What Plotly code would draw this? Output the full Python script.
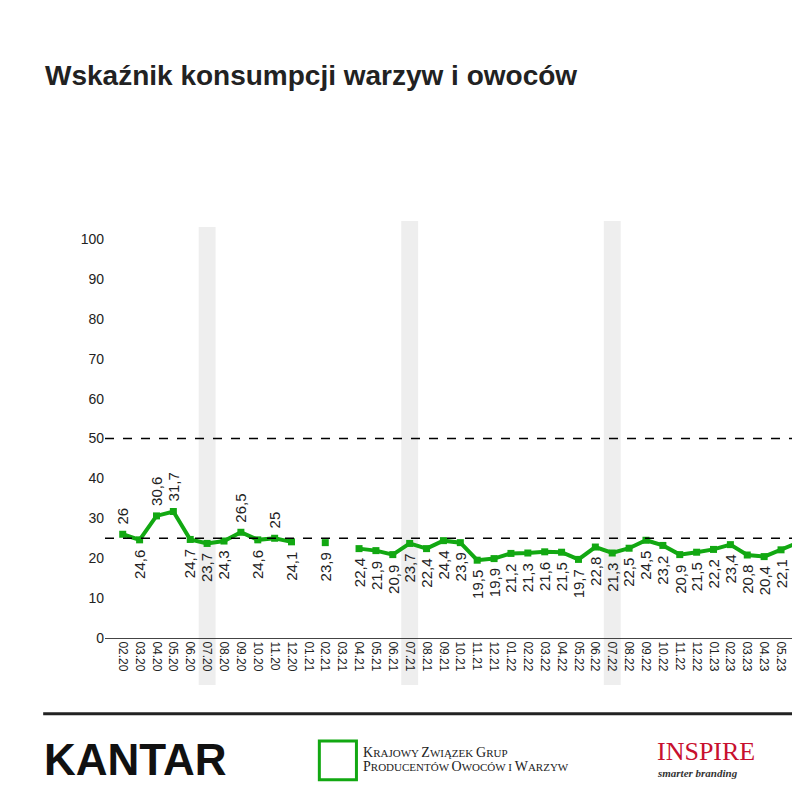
import plotly.graph_objects as go

months = ["02.20","03.20","04.20","05.20","06.20","07.20","08.20","09.20","10.20","11.20","12.20",
          "01.21","02.21","03.21","04.21","05.21","06.21","07.21","08.21","09.21","10.21","11.21","12.21",
          "01.22","02.22","03.22","04.22","05.22","06.22","07.22","08.22","09.22","10.22","11.22","12.22",
          "01.23","02.23","03.23","04.23","05.23","06.23"]
values = [26,24.6,30.6,31.7,24.7,23.7,24.3,26.5,24.6,25,24.1,
          None,23.9,None,22.4,21.9,20.9,23.7,22.4,24.4,23.9,19.5,19.9,
          21.2,21.3,21.6,21.5,19.7,22.8,21.3,22.5,24.5,23.2,20.9,21.5,
          22.2,23.4,20.8,20.4,22.1,23.9]
above = {"02.20","04.20","05.20","09.20","11.20"}
shaded = ["07.20","07.21","07.22"]
green = "#12a812"

idx = list(range(len(months)))
fig = go.Figure()
fig.add_trace(go.Scatter(x=idx, y=values, mode="lines+markers", connectgaps=False,
                         line=dict(color=green, width=4), marker=dict(symbol="square", size=7, color=green),
                         cliponaxis=True, showlegend=False))
for i, (m, v) in enumerate(zip(months, values)):
    if v is None or i >= 40:
        continue
    lab = str(v).replace(".", ",")
    up = m in above
    fig.add_annotation(x=i, y=v, text=lab, textangle=-90, showarrow=False,
                       yanchor="bottom" if up else "top", yshift=8 if up else -8,
                       font=dict(size=15, color="#222", family="Arial"))
for s in shaded:
    i = months.index(s)
    top = 1.030 if s == "07.20" else 1.045
    fig.add_shape(type="rect", xref="x", yref="paper", x0=i-0.5, x1=i+0.5, y0=-0.118, y1=top,
                  fillcolor="#eeeeee", line_width=0, layer="below")
for yv in [50, 25]:
    fig.add_shape(type="line", xref="paper", yref="y", x0=0, x1=1, y0=yv, y1=yv,
                  line=dict(color="black", width=1.3, dash="dash"))
fig.add_shape(type="line", xref="paper", yref="paper", x0=-0.09, x1=1.0, y0=-0.19, y1=-0.19,
              line=dict(color="#222", width=3))
fig.add_annotation(xref="paper", yref="paper", x=-0.09, y=1.41, xanchor="left", yanchor="middle",
                   text="<b>Wskaźnik konsumpcji warzyw i owoców</b>", showarrow=False,
                   font=dict(size=28, color="#222", family="Arial"))
fig.add_annotation(xref="paper", yref="paper", x=-0.092, y=-0.305, xanchor="left", yanchor="middle",
                   text="<b>KANTAR</b>", showarrow=False, font=dict(size=44, color="#111", family="Arial"))
fig.add_shape(type="rect", xref="paper", yref="paper", x0=0.312, x1=0.366, y0=-0.355, y1=-0.258,
              line=dict(color=green, width=3), fillcolor="white")
fig.add_annotation(xref="paper", yref="paper", x=0.372, y=-0.305, xanchor="left", yanchor="middle",
                   text="<span style='font-size:14px'>K</span>RAJOWY <span style='font-size:14px'>Z</span>WIĄZEK <span style='font-size:14px'>G</span>RUP<br><span style='font-size:14px'>P</span>RODUCENTÓW <span style='font-size:14px'>O</span>WOCÓW I <span style='font-size:14px'>W</span>ARZYW",
                   showarrow=False, align="left", font=dict(size=11, color="#222", family="Liberation Serif"))
fig.add_annotation(xref="paper", yref="paper", x=0.80, y=-0.285, xanchor="left", yanchor="middle",
                   text="INSPIRE", showarrow=False, font=dict(size=26, color="#c8102e", family="Liberation Serif"))
fig.add_annotation(xref="paper", yref="paper", x=0.80, y=-0.338, xanchor="left", yanchor="middle",
                   text="<i><b>smarter branding</b></i>", showarrow=False, font=dict(size=11, color="#333", family="Liberation Serif"))

fig.update_layout(width=784, height=784, margin=dict(l=97, r=0, t=231, b=154),
                  plot_bgcolor="white", paper_bgcolor="white",
                  font=dict(family="Arial", color="#222"))
fig.update_xaxes(range=[-1.05, 39.65], tickmode="array", tickvals=idx, ticktext=months, tickangle=90,
                 tickfont=dict(size=12), showgrid=False, showline=True, linecolor="#444", zeroline=False)
fig.update_yaxes(range=[0, 100], tickvals=list(range(0, 101, 10)), showgrid=False, zeroline=False,
                 tickfont=dict(size=14), ticks="", ticklen=0)
fig.write_html("out.html")
